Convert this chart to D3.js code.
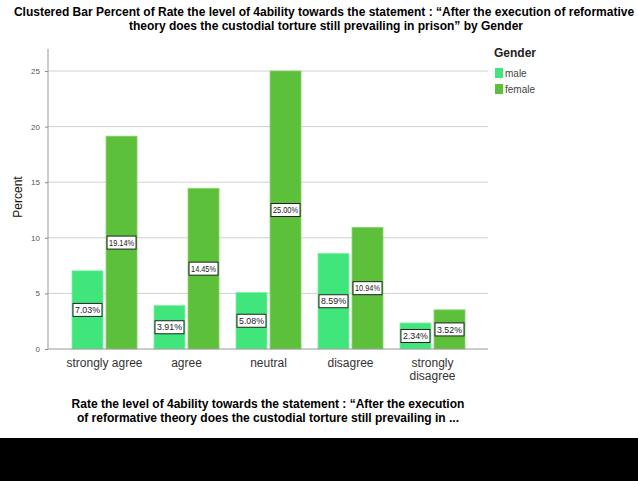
<!DOCTYPE html>
<html>
<head>
<meta charset="utf-8">
<script src="https://cdn.jsdelivr.net/npm/d3@7"></script>
<style>
  body { margin: 0; background: #fff; }
  svg { display: block; }
</style>
</head>
<body>
<svg id="chart" width="638" height="481"></svg>
<script>
  'use strict';

  var categories = ['strongly agree', 'agree', 'neutral', 'disagree', 'strongly disagree'];
  var genders = ['male', 'female'];
  var maleValues = [7.03, 3.91, 5.08, 8.59, 2.34];
  var femaleValues = [19.14, 14.45, 25.00, 10.94, 3.52];
  var yTicks = [0, 5, 10, 15, 20, 25];
  var colors = ['#40e67b', '#5dc03a'];

  var font = '"Liberation Sans Narrow", "Liberation Sans", Arial, sans-serif';
  var $svg = d3.select('#chart');

  var plot = { left: 48, right: 488, top: 49, bottom: 349 };

  var xScale = d3.scaleBand()
    .domain(categories)
    .range([72, 465])
    .paddingInner(0.207)
    .paddingOuter(0);
  var gScale = d3.scaleBand()
    .domain(genders)
    .range([0, xScale.bandwidth()])
    .paddingInner(0.09);
  var yScale = d3.scaleLinear()
    .domain([0, 25])
    .range([plot.bottom, 71]);

  var rows = categories.map(function(c, i) {
    return [
      { cat: c, g: 'male', v: maleValues[i] },
      { cat: c, g: 'female', v: femaleValues[i] }
    ];
  });

  // title
  $svg.append('text')
    .attr('x', 324).attr('y', 16)
    .attr('text-anchor', 'middle')
    .style('font', 'bold 12px ' + font)
    .text('Clustered Bar Percent of Rate the level of 4ability towards the statement : \u201CAfter the execution of reformative');
  $svg.append('text')
    .attr('x', 326).attr('y', 30)
    .attr('text-anchor', 'middle')
    .style('font', 'bold 12px ' + font)
    .text('theory does the custodial torture still prevailing in prison\u201D by Gender');

  // gridlines
  $svg.append('g')
    .selectAll('line.grid')
    .data(yTicks.filter(function(d) { return d > 0; }))
    .enter()
    .append('line')
    .attr('class', 'grid')
    .attr('x1', plot.left).attr('x2', plot.right)
    .attr('y1', function(d) { return yScale(d); })
    .attr('y2', function(d) { return yScale(d); })
    .attr('stroke', '#d0d0d0')
    .attr('stroke-width', 1);

  // y axis
  var yAxis = d3.axisLeft(yScale).tickValues(yTicks).tickSize(3).tickPadding(5);
  var $yAxis = $svg.append('g')
    .attr('transform', 'translate(' + plot.left + ',0)')
    .call(yAxis);
  $yAxis.select('.domain').remove();
  $yAxis.selectAll('line').attr('stroke', '#888');
  $yAxis.selectAll('text')
    .style('font', '8px ' + font)
    .attr('fill', '#555');
  $svg.append('line')
    .attr('x1', plot.left).attr('x2', plot.left)
    .attr('y1', plot.top).attr('y2', plot.bottom)
    .attr('stroke', '#999');

  $svg.append('text')
    .attr('transform', 'translate(22,' + 197 + ') rotate(-90)')
    .attr('text-anchor', 'middle')
    .style('font', '12px ' + font)
    .attr('fill', '#111')
    .text('Percent');

  // bars
  var $groups = $svg.append('g')
    .selectAll('g.cat')
    .data(rows)
    .enter()
    .append('g')
    .attr('class', 'cat')
    .attr('transform', function(d) { return 'translate(' + xScale(d[0].cat) + ',0)'; });

  $groups.selectAll('rect')
    .data(function(d) { return d; })
    .enter()
    .append('rect')
    .attr('x', function(d) { return gScale(d.g); })
    .attr('width', gScale.bandwidth())
    .attr('y', function(d) { return yScale(d.v); })
    .attr('height', function(d) { return yScale(0) - yScale(d.v); })
    .attr('fill', function(d) { return colors[genders.indexOf(d.g)]; })
    .attr('stroke', function(d) { return d.g === 'male' ? '#7ff0a4' : '#86d46a'; })
    .attr('stroke-width', 0.8);

  // value labels, centred at half the bar height
  var $labels = $groups.selectAll('g.lbl')
    .data(function(d) { return d; })
    .enter()
    .append('g')
    .attr('class', 'lbl')
    .attr('transform', function(d) {
      var cx = gScale(d.g) + gScale.bandwidth() / 2;
      var cy = (yScale(0) + yScale(d.v)) / 2;
      return 'translate(' + cx + ',' + cy + ')';
    });
  $labels.append('rect')
    .attr('x', -14.5).attr('y', -6.5)
    .attr('width', 29).attr('height', 13)
    .attr('fill', '#fff')
    .attr('stroke', '#222')
    .attr('stroke-width', 1);
  $labels.append('text')
    .attr('text-anchor', 'middle')
    .attr('dy', '0.35em')
    .attr('textLength', 25)
    .attr('lengthAdjust', 'spacingAndGlyphs')
    .style('font', '9px ' + font)
    .attr('fill', '#222')
    .text(function(d) { return d.v.toFixed(2) + '%'; });

  // x axis baseline
  $svg.append('line')
    .attr('x1', plot.left).attr('x2', plot.right)
    .attr('y1', plot.bottom).attr('y2', plot.bottom)
    .attr('stroke', '#999');

  var xAxis = d3.axisBottom(xScale).tickSize(0).tickPadding(9);
  var $xAxis = $svg.append('g')
    .attr('transform', 'translate(0,' + plot.bottom + ')')
    .call(xAxis);
  $xAxis.select('.domain').remove();
  $xAxis.selectAll('text')
    .style('font', '12px ' + font)
    .attr('fill', '#333')
    .each(function(d) {
      var words = d === 'strongly disagree' ? ['strongly', 'disagree'] : [d];
      var $t = d3.select(this).text(null);
      words.forEach(function(w, i) {
        $t.append('tspan')
          .attr('x', 0)
          .attr('dy', i === 0 ? '0.71em' : '1.1em')
          .text(w);
      });
    });

  // x axis title
  $svg.append('text')
    .attr('x', 268).attr('y', 408)
    .attr('text-anchor', 'middle')
    .style('font', 'bold 12px ' + font)
    .text('Rate the level of 4ability towards the statement : \u201CAfter the execution');
  $svg.append('text')
    .attr('x', 268).attr('y', 422)
    .attr('text-anchor', 'middle')
    .style('font', 'bold 12px ' + font)
    .text('of reformative theory does the custodial torture still prevailing in ...');

  // legend
  var $legend = $svg.append('g').attr('transform', 'translate(494,0)');
  $legend.append('text')
    .attr('x', 0).attr('y', 57)
    .style('font', 'bold 12px ' + font)
    .attr('fill', '#222')
    .text('Gender');
  var $items = $legend.selectAll('g.item')
    .data(genders)
    .enter()
    .append('g')
    .attr('class', 'item')
    .attr('transform', function(d, i) { return 'translate(1,' + (68 + i * 16) + ')'; });
  $items.append('rect')
    .attr('width', 8).attr('height', 10)
    .attr('fill', function(d, i) { return colors[i]; });
  $items.append('text')
    .attr('x', 10).attr('y', 9)
    .style('font', '10px ' + font)
    .attr('fill', '#444')
    .text(function(d) { return d; });

  // black band at bottom
  $svg.append('rect')
    .attr('x', 0).attr('y', 438)
    .attr('width', 638).attr('height', 43)
    .attr('fill', '#000');
</script>
</body>
</html>
